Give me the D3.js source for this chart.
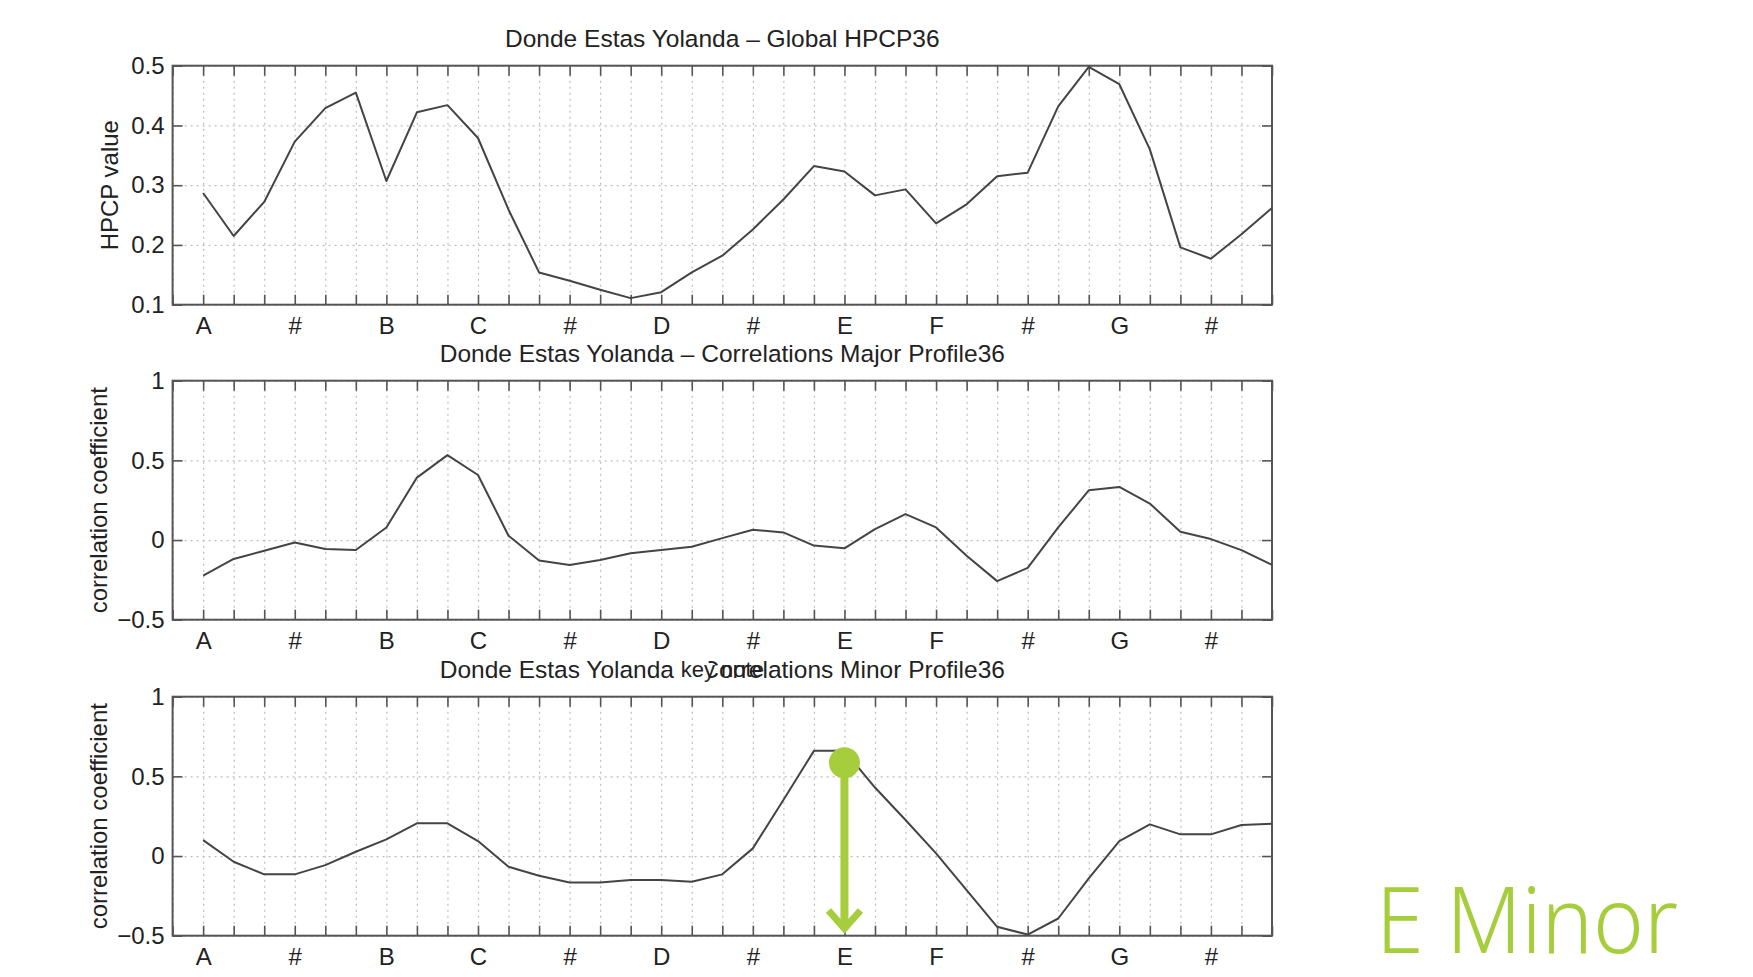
<!DOCTYPE html>
<html>
<head>
<meta charset="utf-8">
<script src="https://cdn.jsdelivr.net/npm/d3@7"></script>
<style>
  html, body { margin: 0; padding: 0; background: #fff; }
  svg { display: block; }
  .tick text { font-family: "Liberation Sans", Arial, sans-serif; font-size: 24px; fill: #222; }
</style>
</head>
<body>
<div id="chart"></div>
<script>
// note names, one label every 3 bins (36 bins)
const noteLabels = ["A", "#", "B", "C", "#", "D", "#", "E", "F", "#", "G", "#"];

// Global HPCP36 values
const hpcpValues = [0.287, 0.215, 0.272, 0.373, 0.429, 0.455, 0.307, 0.422, 0.434, 0.379,
  0.259, 0.154, 0.140, 0.125, 0.111, 0.121, 0.154, 0.182, 0.226, 0.276,
  0.332, 0.323, 0.283, 0.293, 0.236, 0.268, 0.315, 0.321, 0.432, 0.498,
  0.469, 0.360, 0.196, 0.177, 0.218, 0.262];

// correlations with the major profile
const majorValues = [-0.223, -0.119, -0.067, -0.015, -0.056, -0.063, 0.079, 0.392, 0.533, 0.408,
  0.027, -0.129, -0.156, -0.125, -0.083, -0.063, -0.042, 0.012, 0.065, 0.048,
  -0.035, -0.052, 0.069, 0.163, 0.079, -0.098, -0.258, -0.175, 0.079, 0.312,
  0.333, 0.229, 0.052, 0.006, -0.063, -0.156];

// correlations with the minor profile
const minorValues = [0.100, -0.036, -0.115, -0.115, -0.057, 0.027, 0.105, 0.205, 0.205, 0.094,
  -0.067, -0.124, -0.166, -0.166, -0.151, -0.151, -0.161, -0.115, 0.048, 0.352,
  0.660, 0.660, 0.430, 0.226, 0.017, -0.214, -0.444, -0.493, -0.392, -0.140,
  0.094, 0.199, 0.136, 0.136, 0.195, 0.203];

const hpcpTicks = [0.1, 0.2, 0.3, 0.4, 0.5];
const corrTicks = [-0.5, 0, 0.5, 1];

// annotation: detected key
const keyIndex = 21;       // E
const keyDotValue = 0.585;
const keyArrowEnd = -0.48;
const keyText = "E Minor";

const W = 1753, H = 977;
const green = "#a6cd3c";
const font = '"Liberation Sans", Arial, sans-serif';

const svg = d3.select("#chart").append("svg")
    .attr("width", W)
    .attr("height", H);

const left = 172.6, right = 1272, ph = 239;

const x = d3.scaleLinear().domain([-1, 35]).range([left, right]);
const xTicks = d3.range(-1, 36);

const fmt = v => (v < 0 ? "\u2212" : "") + (Math.abs(v) === 0 ? "0" : String(Math.abs(v)));

const panels = [
    { top: 65.7, title: "Donde Estas Yolanda \u2013 Global HPCP36", ylabel: "HPCP value", ylx: 110,
      data: hpcpValues, domain: [0.1, 0.5], ticks: hpcpTicks, xlabel: false },
    { top: 380.7, title: "Donde Estas Yolanda \u2013 Correlations Major Profile36", ylabel: "correlation coefficient", ylx: 99,
      data: majorValues, domain: [-0.5, 1], ticks: corrTicks, xlabel: true },
    { top: 696.7, title: "Donde Estas Yolanda \u2013 Correlations Minor Profile36", ylabel: "correlation coefficient", ylx: 99,
      data: minorValues, domain: [-0.5, 1], ticks: corrTicks, xlabel: true }
];

const xlabelLayer = [];

panels.forEach((p, pi) => {
    const y = d3.scaleLinear().domain(p.domain).range([p.top + ph, p.top]);
    const g = svg.append("g");
    p.y = y;

    // title
    g.append("text")
        .attr("x", (left + right) / 2)
        .attr("y", p.top - 19)
        .attr("text-anchor", "middle")
        .attr("font-family", font)
        .attr("font-size", 24.5)
        .attr("fill", "#222")
        .text(p.title);

    // dotted grid
    g.append("g")
        .attr("transform", `translate(0,${p.top + ph})`)
        .call(d3.axisBottom(x).tickValues(xTicks).tickSize(-ph).tickFormat(""))
        .call(s => s.select(".domain").remove())
        .selectAll("line")
        .attr("stroke", "#bdbdbd")
        .attr("stroke-width", 1.2)
        .attr("stroke-dasharray", "2,4");

    g.append("g")
        .attr("transform", `translate(${left},0)`)
        .call(d3.axisLeft(y).tickValues(p.ticks).tickSize(-(right - left)).tickFormat(""))
        .call(s => s.select(".domain").remove())
        .selectAll("line")
        .attr("stroke", "#bdbdbd")
        .attr("stroke-width", 1.2)
        .attr("stroke-dasharray", "2,4");

    // inward ticks + labels
    g.append("g")
        .attr("transform", `translate(0,${p.top + ph})`)
        .call(d3.axisBottom(x).tickValues(xTicks).tickSize(-10).tickPadding(12)
            .tickFormat(i => (i >= 0 && i % 3 === 0) ? noteLabels[i / 3] : ""))
        .call(s => s.select(".domain").remove())
        .selectAll("line").attr("stroke", "#555").attr("stroke-width", 1.6);

    g.append("g")
        .attr("transform", `translate(0,${p.top})`)
        .call(d3.axisTop(x).tickValues(xTicks).tickSize(-10).tickFormat(""))
        .call(s => s.select(".domain").remove())
        .selectAll("line").attr("stroke", "#555").attr("stroke-width", 1.6);

    g.append("g")
        .attr("transform", `translate(${left},0)`)
        .call(d3.axisLeft(y).tickValues(p.ticks).tickSize(-10).tickPadding(8).tickFormat(fmt))
        .call(s => s.select(".domain").remove())
        .selectAll("line").attr("stroke", "#555").attr("stroke-width", 1.6);

    g.append("g")
        .attr("transform", `translate(${right},0)`)
        .call(d3.axisRight(y).tickValues(p.ticks).tickSize(-10).tickFormat(""))
        .call(s => s.select(".domain").remove())
        .selectAll("line").attr("stroke", "#555").attr("stroke-width", 1.6);

    // frame
    g.append("rect")
        .attr("x", left)
        .attr("y", p.top)
        .attr("width", right - left)
        .attr("height", ph)
        .attr("fill", "none")
        .attr("stroke", "#555")
        .attr("stroke-width", 2);

    // curve
    const line = d3.line()
        .x((d, i) => x(i))
        .y(d => y(d));

    g.append("path")
        .datum(p.data)
        .attr("d", line)
        .attr("fill", "none")
        .attr("stroke", "#444")
        .attr("stroke-width", 2)
        .attr("stroke-linejoin", "round");

    // y label
    g.append("text")
        .attr("transform", `translate(${p.ylx},${p.top + ph / 2}) rotate(-90)`)
        .attr("text-anchor", "middle")
        .attr("dy", "0.35em")
        .attr("font-family", font)
        .attr("font-size", 24)
        .attr("fill", "#222")
        .text(p.ylabel);

    if (p.xlabel) xlabelLayer.push(p.top + ph + 57);
});

// x labels ("key note") drawn last, they overlap the next title
xlabelLayer.forEach(yy => {
    const t = svg.append("text")
        .attr("x", (left + right) / 2)
        .attr("y", yy)
        .attr("text-anchor", "middle")
        .attr("font-family", font)
        .attr("font-size", 22)
        .attr("fill", "#222")
        .text("key note");
    const bb = t.node().getBBox();
    svg.insert("rect", () => t.node())
        .attr("x", bb.x - 2)
        .attr("y", bb.y + 2)
        .attr("width", bb.width * 0.36)
        .attr("height", bb.height - 6)
        .attr("fill", "#fff");
});

// key annotation
const yMinor = panels[2].y;
const kx = x(keyIndex);
const tipY = yMinor(keyArrowEnd);

svg.append("line")
    .attr("x1", kx).attr("x2", kx)
    .attr("y1", yMinor(keyDotValue))
    .attr("y2", tipY - 3)
    .attr("stroke", green)
    .attr("stroke-width", 8);

svg.append("path")
    .attr("d", `M${kx - 16},${tipY - 22}L${kx},${tipY - 4}L${kx + 16},${tipY - 22}`)
    .attr("fill", "none")
    .attr("stroke", green)
    .attr("stroke-width", 7);

svg.append("circle")
    .attr("cx", kx)
    .attr("cy", yMinor(keyDotValue))
    .attr("r", 15.5)
    .attr("fill", green);

svg.append("text")
    .attr("x", 1376)
    .attr("y", 953)
    .attr("font-family", '"Noto Sans", "Open Sans", sans-serif')
    .attr("font-weight", 300)
    .attr("font-size", 92)
    .attr("textLength", 302)
    .attr("lengthAdjust", "spacingAndGlyphs")
    .attr("fill", green)
    .text(keyText);
</script>
</body>
</html>
